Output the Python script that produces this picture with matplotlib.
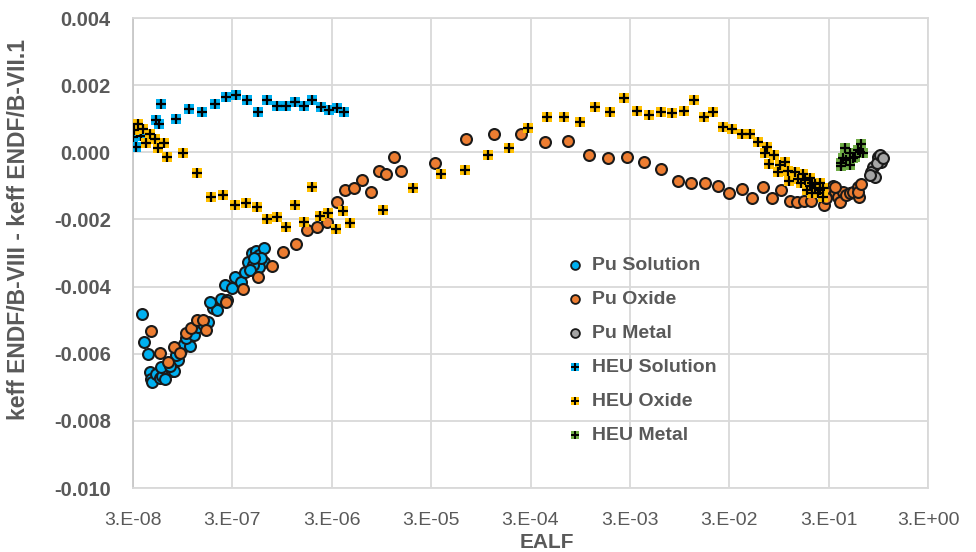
import matplotlib
matplotlib.use("Agg")
import matplotlib.pyplot as plt
from matplotlib.legend_handler import HandlerTuple

# ---------------- data ----------------
pu_sol_ealf = [3.7e-8, 3.9e-8, 4.2e-8, 4.4e-8, 4.6e-8, 4.7e-8, 5.1e-8, 5.6e-8, 5.9e-8, 6.6e-8,
               7.4e-8, 5.8e-8, 8.6e-8, 9.2e-8, 9.8e-8, 1.12e-7, 1.03e-7, 1.23e-7, 1.35e-7, 1.52e-7,
               1.70e-7, 1.91e-7, 2.10e-7, 1.78e-7, 2.32e-7, 2.67e-7, 2.5e-7, 3.0e-7, 3.2e-7, 3.7e-7,
               4.0e-7, 4.3e-7, 4.7e-7, 5.2e-7, 5.6e-7, 6.2e-7, 6.3e-7, 5.5e-7, 4.8e-7, 5.8e-7,
               5.0e-7, 4.5e-7, 7.7e-8, 6.3e-8, 7.1e-8, 8.1e-8]
pu_sol_dk = [-0.00482, -0.00565, -0.00601, -0.00653, -0.00674, -0.00683, -0.00660, -0.00673, -0.00667, -0.00648,
             -0.00651, -0.00639, -0.00620, -0.00589, -0.00571, -0.00577, -0.00554, -0.00544, -0.00520, -0.00511,
             -0.00505, -0.00465, -0.00469, -0.00445, -0.00438, -0.00440, -0.00395, -0.00405, -0.00371, -0.00387,
             -0.00356, -0.00326, -0.00301, -0.00293, -0.00307, -0.00286, -0.00326, -0.00341, -0.00336, -0.00315,
             -0.00316, -0.00351, -0.00651, -0.00675, -0.00637, -0.00604]

pu_ox_ealf = [4.6e-8, 5.6e-8, 6.7e-8, 7.8e-8, 8.9e-8, 1.03e-7, 1.16e-7, 1.31e-7, 1.52e-7, 1.63e-7,
              2.6e-7, 3.85e-7, 5.4e-7, 7.5e-7, 9.7e-7, 1.30e-6, 1.68e-6, 2.14e-6, 2.67e-6, 3.4e-6,
              4.1e-6, 5.0e-6, 6.1e-6, 7.4e-6, 8.9e-6, 1.06e-5, 1.26e-5, 1.48e-5, 3.3e-5, 6.7e-5,
              1.29e-4, 2.40e-4, 4.2e-4, 7.1e-4, 1.16e-3, 1.81e-3, 2.80e-3, 4.2e-3, 6.1e-3, 9.1e-3,
              1.25e-2, 1.71e-2, 2.32e-2, 3.0e-2, 4.0e-2, 5.1e-2, 6.5e-2, 8.1e-2, 0.100, 0.122,
              0.145, 0.171, 0.200, 0.269, 0.33, 0.30, 0.35, 0.37, 0.39, 0.42,
              0.45, 0.49, 0.53, 0.59, 0.61, 0.59, 0.63, 0.35, 0.28]
pu_ox_dk = [-0.00532, -0.00597, -0.00624, -0.00579, -0.00599, -0.00538, -0.00523, -0.00500, -0.00500, -0.00529,
            -0.00445, -0.00408, -0.00371, -0.00339, -0.00296, -0.00273, -0.00231, -0.00222, -0.00209, -0.00148,
            -0.00112, -0.00105, -0.00082, -0.00119, -0.00056, -0.00065, -0.00015, -0.00056, -0.00031, 0.00041,
            0.00055, 0.00055, 0.00030, 0.00035, -0.00008, -0.00016, -0.00013, -0.00028, -0.00050, -0.00085,
            -0.00091, -0.00091, -0.00099, -0.00122, -0.00109, -0.00135, -0.00102, -0.00135, -0.00112, -0.00145,
            -0.00147, -0.00145, -0.00145, -0.00157, -0.00101, -0.00122, -0.00117, -0.00132, -0.00147, -0.00117,
            -0.00127, -0.00122, -0.00117, -0.00102, -0.00132, -0.00117, -0.00094, -0.00102, -0.00136]

pu_met_ealf = [0.94, 1.02, 0.84, 0.81, 0.91, 0.98, 0.88, 1.06, 0.78]
pu_met_dk = [-0.00013, -0.00028, -0.00043, -0.00058, -0.00033, -0.00008, -0.00073, -0.00018, -0.00068]

heu_sol_ealf = [3.0e-8, 3.2e-8, 3.6e-8, 5.1e-8, 5.5e-8, 5.8e-8, 8.2e-8, 1.1e-7, 1.5e-7, 2.0e-7,
                2.6e-7, 3.3e-7, 4.2e-7, 5.4e-7, 6.7e-7, 8.4e-7, 1.04e-6, 1.28e-6, 1.56e-6, 1.91e-6,
                2.32e-6, 2.79e-6, 3.4e-6, 4.0e-6]
heu_sol_dk = [0.00046, 0.00017, 0.00049, 0.00096, 0.00083, 0.00143, 0.00099, 0.00128, 0.00121, 0.00145,
              0.00166, 0.00171, 0.00157, 0.00119, 0.00157, 0.00139, 0.00139, 0.00151, 0.00139, 0.00157,
              0.00136, 0.00127, 0.00133, 0.00121]

heu_ox_ealf = [3.4e-8, 3.1e-8, 3.8e-8, 4.1e-8, 4.4e-8, 5.0e-8, 5.4e-8, 6.2e-8, 6.6e-8, 9.5e-8,
               1.33e-7, 1.81e-7, 2.4e-7, 3.2e-7, 4.1e-7, 5.3e-7, 6.7e-7, 8.4e-7, 1.03e-6, 1.29e-6,
               1.56e-6, 1.91e-6, 2.27e-6, 2.75e-6, 3.3e-6, 3.9e-6, 4.6e-6, 9.9e-6, 1.98e-5, 3.8e-5,
               6.6e-5, 1.12e-4, 1.83e-4, 2.84e-4, 4.4e-4, 6.5e-4, 9.4e-4, 1.33e-3, 1.89e-3, 2.59e-3,
               3.5e-3, 4.7e-3, 6.1e-3, 8.0e-3, 1.04e-2, 1.34e-2, 1.66e-2, 2.07e-2, 2.61e-2, 3.2e-2,
               4.0e-2, 4.8e-2, 5.8e-2, 7.2e-2, 6.9e-2, 8.4e-2, 7.6e-2, 9.7e-2, 0.109, 9.3e-2,
               0.117, 0.137, 0.119, 0.166, 0.157, 0.183, 0.205, 0.244, 0.233, 0.264,
               0.264, 0.193, 0.217, 0.173, 0.194, 0.218, 0.244, 0.203, 0.147]
heu_ox_dk = [0.00083, 0.00066, 0.00069, 0.00027, 0.00055, 0.00039, 0.00014, 0.00029, -0.00013, -0.00003,
             -0.00062, -0.00132, -0.00127, -0.00156, -0.00150, -0.00162, -0.00198, -0.00192, -0.00222, -0.00156,
             -0.00207, -0.00102, -0.00191, -0.00182, -0.00228, -0.00176, -0.00211, -0.00173, -0.00105, -0.00065,
             -0.00053, -0.00007, 0.00014, 0.00073, 0.00104, 0.00104, 0.00090, 0.00136, 0.00119, 0.00163,
             0.00122, 0.00110, 0.00119, 0.00116, 0.00123, 0.00156, 0.00104, 0.00121, 0.00076, 0.00070,
             0.00054, 0.00054, 0.00032, 0.00016, -0.00001, -0.00008, -0.00036, -0.00038, -0.00030, -0.00058,
             -0.00056, -0.00060, -0.00085, -0.00065, -0.00092, -0.00112, -0.00090, -0.00090, -0.00122, -0.00105,
             -0.00132, -0.00100, -0.00106, -0.00083, -0.00077, -0.00094, -0.00112, -0.00121, -0.00080]

heu_met_ealf = [0.40, 0.42, 0.44, 0.45, 0.49, 0.49, 0.53, 0.55, 0.59, 0.62, 0.64, 0.67, 0.40]
heu_met_dk = [-0.00033, -0.00018, 0.00012, -0.00023, -0.00003, -0.00038, -0.00018, -0.00013, 0.00007,
              0.00002, 0.00026, -0.00003, -0.00040]

x_ticks = [3e-8, 3e-7, 3e-6, 3e-5, 3e-4, 3e-3, 3e-2, 3e-1, 3e0]
x_tick_labels = ["3.E-08", "3.E-07", "3.E-06", "3.E-05", "3.E-04", "3.E-03", "3.E-02", "3.E-01", "3.E+00"]
y_ticks = [-0.010, -0.008, -0.006, -0.004, -0.002, 0.000, 0.002, 0.004]
y_tick_labels = ["-0.010", "-0.008", "-0.006", "-0.004", "-0.002", "0.000", "0.002", "0.004"]

# ---------------- style ----------------
TXT = "#595959"
GRID = "#d9d9d9"
C_BLUE = "#00B0F0"
C_ORANGE = "#ED7D31"
C_GRAY = "#A5A5A5"
C_YELLOW = "#FFC000"
C_GREEN = "#70AD47"
NARROW = ['Liberation Sans Narrow', 'Liberation Sans']

plt.rcParams['font.family'] = ['Liberation Sans', 'DejaVu Sans']

fig = plt.figure(figsize=(9.76, 5.52), dpi=100)
ax = fig.add_axes([133/976, 1 - 488/552, (928-133)/976, (488-18)/552])

ax.set_xscale('log')
ax.set_xlim(3e-8, 3e0)
ax.set_ylim(-0.010, 0.004)

ax.set_xticks(x_ticks)
ax.set_xticklabels(x_tick_labels, fontfamily=NARROW, fontsize=14, color=TXT)
ax.xaxis.set_minor_locator(matplotlib.ticker.NullLocator())
ax.set_yticks(y_ticks)
ax.set_yticklabels(y_tick_labels, fontsize=14.5, fontweight='bold', color=TXT)
ax.tick_params(axis='x', length=0, pad=17)
ax.tick_params(axis='y', length=0, pad=16)

ax.grid(True, color=GRID, linewidth=1.3, zorder=0)
ax.set_axisbelow(True)
for s in ax.spines.values():
    s.set_color(GRID)
    s.set_linewidth(1.3)
ax.spines['left'].set_color('#c8c8c8')

circ_kw = dict(s=62, edgecolors='#1a1a1a', linewidths=1.5, zorder=3)
sq_kw = dict(s=62, marker='s', linewidths=0, zorder=4)
pl_kw = dict(s=48, marker='+', c='black', linewidths=1.6, zorder=4)

ax.scatter(pu_sol_ealf, pu_sol_dk, c=C_BLUE, **circ_kw)
ax.scatter(pu_ox_ealf, pu_ox_dk, c=C_ORANGE, **circ_kw)
ax.scatter(pu_met_ealf, pu_met_dk, c=C_GRAY, **circ_kw)
ax.scatter(heu_sol_ealf, heu_sol_dk, c=C_BLUE, **sq_kw)
ax.scatter(heu_sol_ealf, heu_sol_dk, **pl_kw)
ax.scatter(heu_ox_ealf, heu_ox_dk, c=C_YELLOW, **sq_kw)
ax.scatter(heu_ox_ealf, heu_ox_dk, **pl_kw)
ax.scatter(heu_met_ealf, heu_met_dk, c=C_GREEN, **sq_kw)
ax.scatter(heu_met_ealf, heu_met_dk, **pl_kw)

# legend handles (smaller markers)
lc = dict(edgecolors='#1a1a1a', linewidths=1.3, s=40)
L1 = ax.scatter([], [], c=C_BLUE, **lc)
L2 = ax.scatter([], [], c=C_ORANGE, **lc)
L3 = ax.scatter([], [], c=C_GRAY, **lc)
ls = dict(marker='s', s=36, linewidths=0)
lp = dict(marker='+', c='black', s=30, linewidths=1.4)
L4 = (ax.scatter([], [], c=C_BLUE, **ls), ax.scatter([], [], **lp))
L5 = (ax.scatter([], [], c=C_YELLOW, **ls), ax.scatter([], [], **lp))
L6 = (ax.scatter([], [], c=C_GREEN, **ls), ax.scatter([], [], **lp))

leg = ax.legend([L1, L2, L3, L4, L5, L6],
                ["Pu Solution", "Pu Oxide", "Pu Metal", "HEU Solution", "HEU Oxide", "HEU Metal"],
                handler_map={tuple: HandlerTuple(ndivide=1, pad=0)},
                loc='upper left', bbox_to_anchor=(552/976, 1 - 241/552),
                bbox_transform=fig.transFigure, frameon=False,
                prop=dict(size=14, weight='bold'), labelcolor=TXT,
                handlelength=0.8, handletextpad=0.45, labelspacing=0.84, borderpad=0.3,
                scatterpoints=1)

ax.set_xlabel("EALF", fontsize=15, fontweight='bold', color=TXT, fontfamily=NARROW)
ax.xaxis.set_label_coords((547-133)/795, -0.095)
ax.set_ylabel("keff ENDF/B-VIII - keff ENDF/B-VII.1", fontsize=16.5, fontweight='bold', color=TXT)
ax.yaxis.set_label_coords(-0.13, 0.55)

fig.savefig("out.png", dpi=100)
